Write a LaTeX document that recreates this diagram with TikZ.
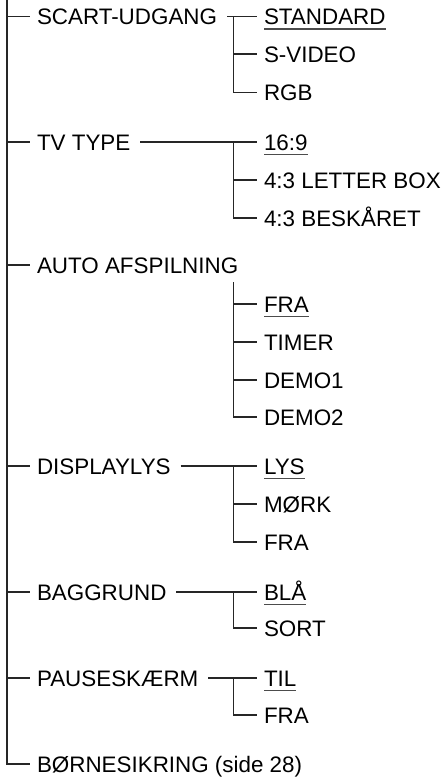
\documentclass[tikz,border=0pt]{standalone}
\usepackage{fontspec}
\setmainfont{Liberation Sans}
\begin{document}
\begin{tikzpicture}[x=1pt,y=-1pt,
 item/.style={inner sep=0pt, outer xsep=7pt, outer ysep=0pt, text height=16pt, text depth=0pt, anchor=west, font=\fontsize{22.4}{26}\selectfont},
 conn/.style={line width=1.4pt, draw=black!85},
 uline/.style={line width=1.2pt, draw=black!70}]
\useasboundingbox (0,0) rectangle (444,779);
\coordinate (top) at (7,0);
\coordinate (jx) at (233.5,0);
\coordinate (autoj) at (233.5,282);
\node[item] (scart) at (30,16.5) {SCART-UDGANG};
\node[item] (std) at (257,16.5) {STANDARD};
\node[item] (svid) at (257,54) {S-VIDEO};
\node[item] (rgb) at (257,92.5) {RGB};
\node[item] (tv) at (30,142) {TV TYPE};
\node[item] (t169) at (257,142) {16:9};
\node[item] (tlb) at (257,180) {4:3 LETTER BOX};
\node[item] (tbs) at (257,218) {4:3 BESKÅRET};
\node[item] (auto) at (30,265) {AUTO AFSPILNING};
\node[item] (afra) at (257,304) {FRA};
\node[item] (atim) at (257,342) {TIMER};
\node[item] (ad1) at (257,380) {DEMO1};
\node[item] (ad2) at (257,417) {DEMO2};
\node[item] (disp) at (30,466) {DISPLAYLYS};
\node[item] (dlys) at (257,466) {LYS};
\node[item] (dmork) at (257,504) {MØRK};
\node[item] (dfra) at (257,542) {FRA};
\node[item] (bag) at (30,592) {BAGGRUND};
\node[item] (bbla) at (257,592) {BLÅ};
\node[item] (bsort) at (257,628) {SORT};
\node[item] (pause) at (30,678) {PAUSESKÆRM};
\node[item] (ptil) at (257,678) {TIL};
\node[item] (pfra) at (257,715) {FRA};
\node[item] (born) at (30,764) {BØRNESIKRING (side 28)};
% main trunk
\draw[conn] (top) |- (born.west);
\foreach \n in {scart,tv,auto,disp,bag,pause} \draw[conn] (top |- \n.west) -- (\n.west);
% parent lines
\foreach \p/\c in {scart/std,tv/t169,disp/dlys,bag/bbla,pause/ptil} \draw[conn] ([xshift=3pt]\p.east) -- (\c.west);
% sub trunks
\draw[conn] (jx |- std.west) |- (rgb.west);
\draw[conn] (jx |- svid.west) -- (svid.west);
\draw[conn] (jx |- t169.west) |- (tbs.west);
\draw[conn] (jx |- tlb.west) -- (tlb.west);
\draw[conn] (autoj) |- (ad2.west);
\foreach \n in {afra,atim,ad1} \draw[conn] (jx |- \n.west) -- (\n.west);
\draw[conn] (jx |- dlys.west) |- (dfra.west);
\draw[conn] (jx |- dmork.west) -- (dmork.west);
\draw[conn] (jx |- bbla.west) |- (bsort.west);
\draw[conn] (jx |- ptil.west) |- (pfra.west);
% underlines
\foreach \n in {std,t169,afra,dlys,bbla,ptil} \draw[uline] ([xshift=7pt,yshift=-4.5pt]\n.south west) -- ([xshift=-7pt,yshift=-4.5pt]\n.south east);
\end{tikzpicture}
\end{document}
